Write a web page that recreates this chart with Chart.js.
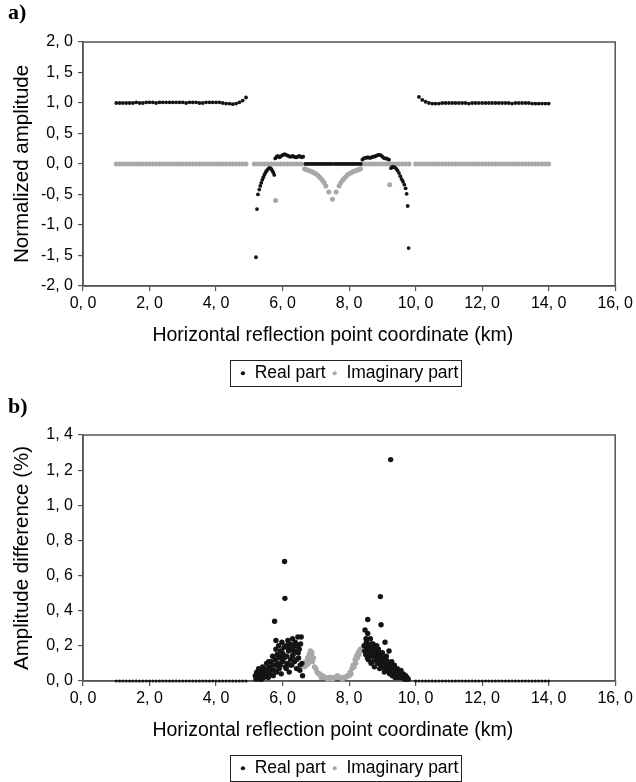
<!DOCTYPE html>
<html lang="en">
<head>
<meta charset="UTF-8" />
<title>Normalized amplitude / amplitude difference</title>
<script src="https://cdn.jsdelivr.net/npm/chart.js"></script>
<style>
    body { margin: 0; background: #fff; }
    .panel { position: absolute; left: 0; width: 636px; }
    .panel canvas { display: block; }
    .tag { position: absolute; left: 8px; font: bold 22px "Liberation Serif", serif; line-height: 1; color: #000; }
</style>
</head>
<body>
<div class="panel" style="top:0;height:392px">
    <canvas id="chartA" width="636" height="392"></canvas>
    <div class="tag" style="top:1px">a)</div>
</div>
<div class="panel" style="top:390px;height:397px">
    <canvas id="chartB" width="636" height="397"></canvas>
    <div class="tag" style="top:5px">b)</div>
</div>
<script>
const FONT = '"Liberation Sans", Arial, sans-serif';
const seriesNames = ['Real part', 'Imaginary part'];
// trailing no-break spaces pull the centred title a little to the left, as in the original
const xTitle = 'Horizontal reflection point coordinate (km)\u00a0\u00a0\u00a0\u00a0\u00a0\u00a0';

// tick values
const xTicks = [0, 2, 4, 6, 8, 10, 12, 14, 16];
const aYTicks = [-2, -1.5, -1, -0.5, 0, 0.5, 1, 1.5, 2];
const bYTicks = [0, 0.2, 0.4, 0.6, 0.8, 1.0, 1.2, 1.4];

// ---- panel a) normalized amplitude, real part ----
const aRealX1 = [1.0,1.1,1.2,1.3,1.4,1.5,1.6,1.7,1.8,1.9,2.0,2.1,2.2,2.3,2.4,2.5,2.6,2.7,2.8,2.9,
                 3.0,3.1,3.2,3.3,3.4,3.5,3.6,3.7,3.8,3.9,4.0,4.1,4.2,4.3,4.4,4.5,4.6,4.7,4.8,4.9];
const aRealY1 = [1.00,1.00,1.00,1.00,1.00,1.00,1.01,1.00,1.00,1.01,1.01,1.01,1.00,1.01,1.01,1.01,1.01,1.01,1.01,1.01,
                 1.01,1.00,1.01,1.01,1.01,1.00,1.00,1.01,1.01,1.01,1.01,1.01,1.00,0.99,0.99,0.98,0.99,1.01,1.04,1.09];
const aRealX2 = [5.20,5.23,5.26,5.30,5.33,5.36,5.39,5.42,5.45,5.48,5.51,5.54,5.57,5.60,5.63,5.66,5.69,5.72,5.75];
const aRealY2 = [-1.53,-0.74,-0.50,-0.42,-0.36,-0.31,-0.26,-0.22,-0.18,-0.15,-0.12,-0.10,-0.08,-0.07,-0.07,-0.08,-0.11,-0.14,-0.18];
const aRealX3 = [5.78,5.82,5.86,5.90,5.94,5.98,6.02,6.06,6.10,6.14,6.18,6.22,6.26,6.30,6.34,6.38,6.42,6.46,6.50,6.54,6.58,6.62,
                 6.68,6.73,6.78,6.83,6.88,6.93,6.98,7.03,7.08,7.13,7.18,7.23,7.28,7.33,7.38,7.43,7.48,
                 7.55,7.60,7.65,7.70,7.75,7.80,7.85,7.90,7.95,8.00,8.05,8.10,8.15,8.20,8.25,8.30,8.35,
                 8.40,8.44,8.48,8.52,8.56,8.60,8.64,8.68,8.72,8.76,8.80,8.84,8.88,8.92,8.96,9.00,9.04,9.08,9.12,9.16,9.20];
const aRealY3 = [0.09,0.12,0.13,0.11,0.12,0.14,0.15,0.16,0.15,0.14,0.13,0.12,0.12,0.13,0.12,0.11,0.11,0.12,0.13,0.12,0.11,0.12,
                 0,0,0,0,0,0,0,0,0,0,0,0,0,0,0,0,0,
                 0,0,0,0,0,0,0,0,0,0,0,0,0,0,0,0,0,
                 0.07,0.09,0.10,0.10,0.11,0.10,0.10,0.11,0.12,0.12,0.13,0.14,0.15,0.15,0.14,0.12,0.10,0.09,0.09,0.08,0.07];
const aRealX4 = [9.26,9.30,9.34,9.38,9.42,9.46,9.50,9.54,9.58,9.62,9.66,9.70,9.73,9.76,9.79];
const aRealY4 = [-0.07,-0.05,-0.05,-0.06,-0.08,-0.11,-0.15,-0.20,-0.25,-0.29,-0.34,-0.40,-0.49,-0.69,-1.38];
const aRealX5 = [10.1,10.2,10.3,10.4,10.5,10.6,10.7,10.8,10.9,11.0,11.1,11.2,11.3,11.4,11.5,11.6,11.7,11.8,11.9,12.0,
                 12.1,12.2,12.3,12.4,12.5,12.6,12.7,12.8,12.9,13.0,13.1,13.2,13.3,13.4,13.5,13.6,13.7,13.8,13.9,14.0];
const aRealY5 = [1.10,1.05,1.02,1.00,0.99,0.99,0.99,1.00,1.00,1.00,1.00,1.00,1.00,1.00,1.00,0.99,1.00,1.00,1.00,1.00,
                 1.00,1.00,1.00,1.00,1.00,1.00,1.00,1.00,0.99,1.00,1.00,1.00,1.00,1.00,0.99,0.99,0.99,0.99,0.99,0.99];

// ---- panel a) normalized amplitude, imaginary part ----
const aImagX1 = [1.0,1.1,1.2,1.3,1.4,1.5,1.6,1.7,1.8,1.9,2.0,2.1,2.2,2.3,2.4,2.5,2.6,2.7,2.8,2.9,
                 3.0,3.1,3.2,3.3,3.4,3.5,3.6,3.7,3.8,3.9,4.0,4.1,4.2,4.3,4.4,4.5,4.6,4.7,4.8,4.9];
const aImagY1 = [0,0,0,0,0,0,0,0,0,0,0,0,0,0,0,0,0,0,0,0,0,0,0,0,0,0,0,0,0,0,0,0,0,0,0,0,0,0,0,0];
const aImagX2 = [5.15,5.25,5.35,5.45,5.55,5.65,5.75,5.85,5.95,6.05,6.15,6.25,6.35,6.45,6.55];
const aImagY2 = [0,0,0,0,0,0,0,0,0,0,0,0,0,0,0];
const aImagX3 = [5.79, 9.22];
const aImagY3 = [-0.60, -0.34];
const aImagX4 = [6.66,6.70,6.75,6.80,6.85,6.90,6.95,7.00,7.05,7.10,7.15,7.20,7.25,7.30,7.39,7.50,
                 7.61,7.70,7.75,7.80,7.85,7.90,7.95,8.00,8.05,8.10,8.15,8.20,8.25,8.30,8.34];
const aImagY4 = [-0.08,-0.09,-0.10,-0.11,-0.12,-0.13,-0.15,-0.16,-0.18,-0.21,-0.24,-0.27,-0.31,-0.36,-0.46,-0.58,
                 -0.46,-0.36,-0.31,-0.27,-0.24,-0.21,-0.18,-0.16,-0.15,-0.13,-0.12,-0.11,-0.10,-0.09,-0.08];
const aImagX5 = [8.4,8.5,8.6,8.7,8.8,8.9,9.0,9.1,9.2,9.3,9.4,9.5,9.6,9.7,9.8];
const aImagY5 = [0,0,0,0,0,0,0,0,0,0,0,0,0,0,0];
const aImagX6 = [10.0,10.1,10.2,10.3,10.4,10.5,10.6,10.7,10.8,10.9,11.0,11.1,11.2,11.3,11.4,11.5,11.6,11.7,11.8,11.9,12.0,
                 12.1,12.2,12.3,12.4,12.5,12.6,12.7,12.8,12.9,13.0,13.1,13.2,13.3,13.4,13.5,13.6,13.7,13.8,13.9,14.0];
const aImagY6 = [0,0,0,0,0,0,0,0,0,0,0,0,0,0,0,0,0,0,0,0,0,0,0,0,0,0,0,0,0,0,0,0,0,0,0,0,0,0,0,0,0];

// ---- panel b) amplitude difference (%), real part ----
const bRealX1 = [1.0,1.1,1.2,1.3,1.4,1.5,1.6,1.7,1.8,1.9,2.0,2.1,2.2,2.3,2.4,2.5,2.6,2.7,2.8,2.9,
                 3.0,3.1,3.2,3.3,3.4,3.5,3.6,3.7,3.8,3.9,4.0,4.1,4.2,4.3,4.4,4.5,4.6,4.7,4.8,4.9];
const bRealY1 = [0,0,0,0,0,0,0,0,0,0,0,0,0,0,0,0,0,0,0,0,0,0,0,0,0,0,0,0,0,0,0,0,0,0,0,0,0,0,0,0];
const bRealX2 = [5.18,5.22,5.25,5.28,5.30,5.33,5.35,5.38,5.40,5.43,5.45,5.48,5.50,5.52,5.55,5.57,5.60,5.62,5.65,5.67,
                 5.70,5.72,5.74,5.76,5.78,5.80,5.80,5.82,5.84,5.86,5.88,5.90,5.92,5.94,5.96,5.98,6.00,6.02,6.04,6.06,
                 6.07,6.08,6.10,6.12,6.14,6.16,6.18,6.20,6.22,6.24,6.26,6.28,6.30,6.32,6.34,6.36,6.38,6.40,6.42,6.44,
                 6.46,6.48,6.50,6.52,6.54,6.56,6.58,6.60];
const bRealY2 = [0.03,0.05,0.02,0.07,0.04,0.01,0.06,0.03,0.08,0.02,0.05,0.07,0.03,0.10,0.05,0.02,0.08,0.04,0.11,0.06,
                 0.14,0.03,0.09,0.34,0.12,0.18,0.23,0.05,0.15,0.10,0.20,0.07,0.13,0.17,0.04,0.22,0.11,0.15,0.19,0.68,
                 0.47,0.08,0.20,0.14,0.10,0.23,0.17,0.05,0.21,0.12,0.18,0.09,0.24,0.15,0.20,0.11,0.22,0.17,0.07,0.20,
                 0.25,0.13,0.18,0.06,0.21,0.25,0.10,0.03];
const bRealX3 = [5.20,5.26,5.32,5.37,5.42,5.47,5.53,5.58,5.63,5.69,5.75,5.81,5.87,5.93,5.99,6.05,6.11,6.17,6.23,6.29,
                 6.35,6.41,6.47,6.53];
const bRealY3 = [0.01,0.04,0.03,0.01,0.06,0.03,0.06,0.11,0.07,0.09,0.06,0.09,0.14,0.09,0.16,0.13,0.07,0.19,0.09,0.14,
                 0.17,0.12,0.16,0.09];
const bRealX4 = [8.45,8.48,8.50,8.52,8.54,8.56,8.56,8.58,8.60,8.62,8.64,8.66,8.68,8.70,8.72,8.74,8.76,8.78,8.80,8.82,
                 8.84,8.86,8.88,8.90,8.92,8.94,8.94,8.96,8.98,9.00,9.02,9.04,9.06,9.08,9.10,9.12,9.14,9.16,9.18,9.20,
                 9.22,9.24,9.25,9.26,9.28,9.30,9.32,9.34,9.36,9.38,9.40,9.42,9.45,9.48,9.50,9.53,9.56,9.60,9.63,9.66,
                 9.70,9.74,9.78];
const bRealY4 = [0.20,0.29,0.15,0.22,0.18,0.35,0.27,0.12,0.20,0.16,0.24,0.10,0.19,0.14,0.21,0.17,0.08,0.15,0.19,0.12,
                 0.16,0.10,0.18,0.13,0.07,0.48,0.15,0.32,0.11,0.16,0.09,0.13,0.05,0.22,0.10,0.14,0.06,0.11,0.08,0.17,
                 0.04,0.09,1.26,0.06,0.11,0.03,0.07,0.05,0.09,0.02,0.06,0.04,0.07,0.02,0.05,0.03,0.06,0.02,0.04,0.01,
                 0.03,0.02,0.01];
const bRealX5 = [8.47,8.51,8.55,8.59,8.63,8.67,8.71,8.75,8.79,8.83,8.87,8.91,8.95,8.99,9.03,9.07,9.11,9.15,9.19,9.23,
                 9.29,9.33,9.37,9.41,9.46,9.52,9.58,9.64,9.72];
const bRealY5 = [0.17,0.24,0.13,0.19,0.15,0.21,0.11,0.18,0.14,0.20,0.12,0.16,0.09,0.13,0.11,0.07,0.12,0.09,0.05,0.07,
                 0.08,0.04,0.06,0.03,0.04,0.05,0.02,0.03,0.01];
const bRealX6 = [10.0,10.1,10.2,10.3,10.4,10.5,10.6,10.7,10.8,10.9,11.0,11.1,11.2,11.3,11.4,11.5,11.6,11.7,11.8,11.9,12.0,
                 12.1,12.2,12.3,12.4,12.5,12.6,12.7,12.8,12.9,13.0,13.1,13.2,13.3,13.4,13.5,13.6,13.7,13.8,13.9,14.0];
const bRealY6 = [0,0,0,0,0,0,0,0,0,0,0,0,0,0,0,0,0,0,0,0,0,0,0,0,0,0,0,0,0,0,0,0,0,0,0,0,0,0,0,0,0];

// ---- panel b) amplitude difference (%), imaginary part ----
const bImagX = [5.85,5.90,6.66,6.70,6.72,6.75,6.78,6.80,6.82,6.84,6.86,6.88,6.90,6.93,6.96,7.00,7.04,7.08,7.12,7.16,
                7.20,7.25,7.30,7.35,7.40,7.45,7.50,7.55,7.60,7.65,7.70,7.75,7.80,7.85,7.90,7.95,8.00,8.03,8.06,8.09,
                8.12,8.15,8.18,8.20,8.22,8.25,8.27,8.30,8.32,8.34];
const bImagY = [0.08,0.05,0.08,0.11,0.09,0.13,0.10,0.15,0.12,0.17,0.14,0.16,0.11,0.13,0.08,0.07,0.05,0.04,0.04,0.02,
                0.03,0.02,0.02,0.01,0.02,0.02,0.01,0.02,0.02,0.03,0.02,0.02,0.01,0.02,0.02,0.03,0.03,0.05,0.04,0.07,
                0.09,0.08,0.12,0.10,0.14,0.13,0.16,0.15,0.17,0.18];

function pts(pairs) {
    const out = [];
    pairs.forEach(([xs, ys]) => xs.forEach((x, i) => out.push({ x: x, y: ys[i] })));
    return out;
}
const fmt = v => v.toFixed(1).replace('.', ', ');

// frame round the plot area (under the points) and a box round the legend
const framePlugin = {
    id: 'frame',
    beforeDatasetsDraw(chart) {
        const a = chart.chartArea, ctx = chart.ctx;
        ctx.save();
        ctx.strokeStyle = '#555';
        ctx.lineWidth = 1.5;
        ctx.strokeRect(a.left, a.top, a.right - a.left, a.bottom - a.top);
        ctx.restore();
    },
    afterDraw(chart) {
        const ctx = chart.ctx;
        const hb = chart.legend.legendHitBoxes;
        if (!hb || !hb.length) return;
        const last = hb[hb.length - 1];
        const l = Math.round(hb[0].left - 10) + 0.5, r = Math.round(last.left + last.width + 3) + 0.5;
        const t = Math.round(hb[0].top - 5) + 0.5, b = Math.round(hb[0].top + hb[0].height + 4) + 0.5;
        ctx.save();
        ctx.lineWidth = 1;
        ctx.strokeStyle = '#222';
        ctx.strokeRect(l, t, r - l, b - t);
        ctx.restore();
    }
};

function makeChart(id, realData, imagData, yTicks, yTitle, pad, realRadius, imagRadius) {
    return new Chart(document.getElementById(id), {
        type: 'scatter',
        data: {
            datasets: [
                { label: seriesNames[0], data: realData, backgroundColor: '#141414', borderWidth: 0, pointRadius: realRadius, clip: false },
                { label: seriesNames[1], data: imagData, backgroundColor: '#a8a8a8', borderWidth: 0, pointRadius: imagRadius, clip: false }
            ]
        },
        options: {
            responsive: false,
            animation: false,
            events: [],
            layout: { padding: pad },
            plugins: {
                tooltip: { enabled: false },
                legend: {
                    position: 'bottom',
                    fullSize: false,
                    labels: {
                        usePointStyle: true, pointStyle: 'circle', boxWidth: 6, boxHeight: 3, padding: 6,
                        color: '#000', font: { family: FONT, size: 17.5 }
                    }
                }
            },
            scales: {
                x: {
                    type: 'linear', min: xTicks[0], max: xTicks[xTicks.length - 1],
                    afterBuildTicks: s => { s.ticks = xTicks.map(v => ({ value: v })); },
                    grid: { drawOnChartArea: false, tickLength: 5, color: '#555', lineWidth: 1.2 },
                    border: { color: '#555', width: 1.5 },
                    ticks: { callback: fmt, color: '#000', padding: 3, maxRotation: 0, font: { family: FONT, size: 16 } },
                    title: { display: true, text: xTitle, color: '#000', font: { family: FONT, size: 19.5 }, padding: { top: 8, bottom: 11 } }
                },
                y: {
                    min: yTicks[0], max: yTicks[yTicks.length - 1],
                    afterBuildTicks: s => { s.ticks = yTicks.map(v => ({ value: v })); },
                    afterFit: s => { s.width = 83; },
                    grid: { drawOnChartArea: false, tickLength: 5, color: '#555', lineWidth: 1.2 },
                    border: { color: '#555', width: 1.5 },
                    ticks: { callback: fmt, color: '#000', padding: 5, font: { family: FONT, size: 16 } },
                    title: { display: true, text: yTitle, color: '#000', font: { family: FONT, size: 20.5 }, padding: { top: 10, bottom: 0 } }
                }
            }
        },
        plugins: [framePlugin]
    });
}

makeChart('chartA',
    pts([[aRealX1, aRealY1], [aRealX2, aRealY2], [aRealX3, aRealY3], [aRealX4, aRealY4], [aRealX5, aRealY5]]),
    pts([[aImagX1, aImagY1], [aImagX2, aImagY2], [aImagX3, aImagY3], [aImagX4, aImagY4], [aImagX5, aImagY5], [aImagX6, aImagY6]]),
    aYTicks, 'Normalized amplitude', { left: 0, right: 19, top: 42, bottom: 0 }, 1.9, 2.5);

// the flat zero runs in b) are drawn with smaller dots
const bRealRadius = ctx => (ctx.raw && ctx.raw.y === 0 && (ctx.raw.x < 5 || ctx.raw.x >= 10)) ? 1.5 : 2.7;
makeChart('chartB',
    pts([[bRealX1, bRealY1], [bRealX2, bRealY2], [bRealX3, bRealY3], [bRealX4, bRealY4], [bRealX5, bRealY5], [bRealX6, bRealY6]]),
    pts([[bImagX, bImagY]]),
    bYTicks, 'Amplitude difference (%)', { left: 0, right: 19, top: 45, bottom: 0 }, bRealRadius, 2.7);
</script>
</body>
</html>
